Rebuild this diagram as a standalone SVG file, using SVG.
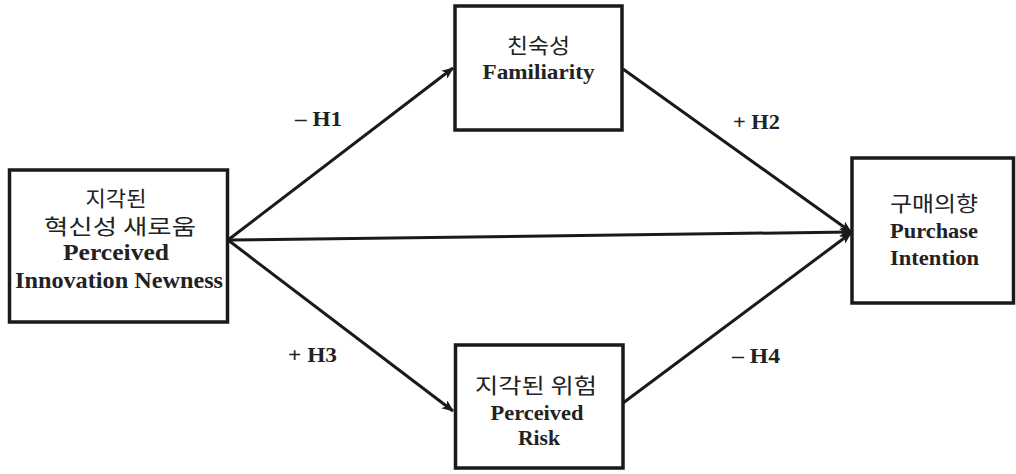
<svg xmlns="http://www.w3.org/2000/svg" width="1016" height="474" viewBox="0 0 1016 474">
<style>
.box{fill:#fff;stroke:#1a1a1a;stroke-width:3.5}
.en{font-family:"Liberation Serif","Times New Roman",serif;font-weight:bold;fill:#222;text-anchor:middle}
.ko{font-family:"Noto Sans CJK KR",sans-serif;fill:#222;text-anchor:middle;font-size:21px}
.lbl{font-family:"Liberation Serif","Times New Roman",serif;font-weight:bold;fill:#222;font-size:20px}
.edge{stroke:#1a1a1a;stroke-width:3;fill:none;marker-end:url(#ah)}
</style>
<defs>
<marker id="ah" viewBox="0 0 12 10" refX="11" refY="5" markerWidth="12" markerHeight="10" markerUnits="userSpaceOnUse" orient="auto">
<path d="M0,0 L12,5 L0,10 L3,5 Z" fill="#1a1a1a"/>
</marker>
</defs>
<rect width="1016" height="474" fill="#fff"/>
<g id="connectors">
<line class="edge" x1="228" y1="240" x2="453" y2="68"/>
<line class="edge" x1="228" y1="240" x2="851" y2="232"/>
<line class="edge" x1="228" y1="240" x2="453" y2="411"/>
<line class="edge" x1="623" y1="69" x2="851" y2="232"/>
<line class="edge" x1="623" y1="403" x2="851" y2="233"/>
<text class="lbl" x="295" y="126" textLength="47" lengthAdjust="spacingAndGlyphs">– H1</text>
<text class="lbl" x="733" y="129" textLength="47" lengthAdjust="spacingAndGlyphs">+ H2</text>
<text class="lbl" x="288" y="362" textLength="49" lengthAdjust="spacingAndGlyphs">+ H3</text>
<text class="lbl" x="732" y="363" textLength="48" lengthAdjust="spacingAndGlyphs">– H4</text>
</g>
<g id="node-newness">
<rect class="box" x="9.5" y="170" width="218" height="152"/>
<text class="ko" x="116" y="206" textLength="61" lengthAdjust="spacingAndGlyphs">지각된</text>
<text class="ko" x="120" y="234" textLength="152" lengthAdjust="spacingAndGlyphs">혁신성 새로움</text>
<text class="en" x="116" y="260" font-size="23" textLength="106" lengthAdjust="spacingAndGlyphs">Perceived</text>
<text class="en" x="119" y="288" font-size="23" textLength="208" lengthAdjust="spacingAndGlyphs">Innovation Newness</text>
</g>
<g id="node-familiarity">
<rect class="box" x="455" y="6" width="167" height="124"/>
<text class="ko" x="538.5" y="53" textLength="63" lengthAdjust="spacingAndGlyphs">친숙성</text>
<text class="en" x="538.5" y="79" font-size="21" textLength="112" lengthAdjust="spacingAndGlyphs">Familiarity</text>
</g>
<g id="node-risk">
<rect class="box" x="455.5" y="345" width="167.5" height="123"/>
<text class="ko" x="536" y="393" textLength="122" lengthAdjust="spacingAndGlyphs">지각된 위험</text>
<text class="en" x="537" y="420" font-size="21" textLength="93" lengthAdjust="spacingAndGlyphs">Perceived</text>
<text class="en" x="539" y="445" font-size="21" textLength="42" lengthAdjust="spacingAndGlyphs">Risk</text>
</g>
<g id="node-purchase">
<rect class="box" x="852" y="158" width="161.5" height="145"/>
<text class="ko" x="934" y="211" textLength="88" lengthAdjust="spacingAndGlyphs">구매의향</text>
<text class="en" x="934" y="238" font-size="21" textLength="88" lengthAdjust="spacingAndGlyphs">Purchase</text>
<text class="en" x="934.5" y="265" font-size="21" textLength="89" lengthAdjust="spacingAndGlyphs">Intention</text>
</g>
</svg>
